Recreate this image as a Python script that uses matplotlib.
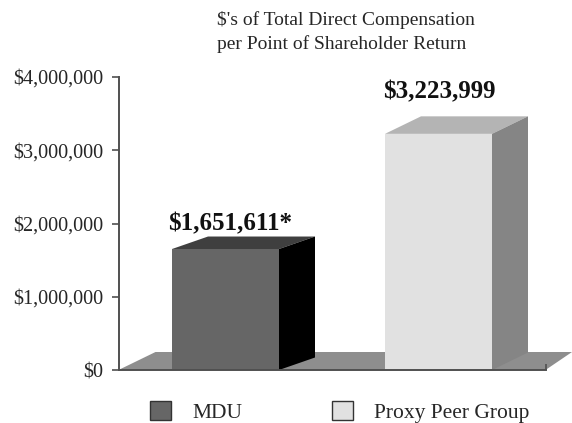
import matplotlib
matplotlib.use('Agg')
import matplotlib.pyplot as plt
from matplotlib.patches import Polygon, Patch

plt.rcParams['font.family'] = ['Liberation Serif', 'DejaVu Serif']

# Data
groups = ['MDU', 'Proxy Peer Group']
values = [1651611, 3223999]
value_labels = ['$1,651,611*', '$3,223,999']
y_ticks = [0, 1000000, 2000000, 3000000, 4000000]
y_tick_labels = ['$0', '$1,000,000', '$2,000,000', '$3,000,000', '$4,000,000']

# Colours: front, top, side
colors = [('#666666', '#3f3f3f', '#000000'), ('#e1e1e1', '#b4b4b4', '#858585')]
floor_color = '#8e8e8e'
axis_color = '#505050'
text_color = '#262626'

W, H = 572, 423
fig = plt.figure(figsize=(W / 100, H / 100), dpi=100)

# Axes box in pixels, x data is simply pixels from the figure's left edge
left, right, top, bottom = 118.5, 545.5, 77, 370
ax = fig.add_axes([left / W, 1 - bottom / H, (right - left) / W, (bottom - top) / H])
ax.set_xlim(left, right)
ax.set_ylim(0, 4000000)
ax.patch.set_alpha(0)
px_y = 4000000 / (bottom - top)  # one pixel in y units

# Bar layout: left edge, width, depth in pixels
bar_x = [172, 385]
bar_w = [107, 107]
bar_dx = [36, 36]
bar_dy = [12.5, 17.5]


def add_poly(points, color, z):
    ax.add_patch(Polygon(points, closed=True, facecolor=color, edgecolor='none',
                         clip_on=False, zorder=z))


# Floor
floor_dy = 18 * px_y
add_poly([(left, 0), (left + 37, floor_dy), (572, floor_dy), (right, 0)], floor_color, 1)

for i, v in enumerate(values):
    x0 = bar_x[i]
    x1 = x0 + bar_w[i]
    dx = bar_dx[i]
    dy = bar_dy[i] * px_y
    front, top_c, side = colors[i]
    add_poly([(x0, 0), (x1, 0), (x1, v), (x0, v)], front, 3)
    add_poly([(x0, v), (x1, v), (x1 + dx, v + dy), (x0 + dx, v + dy)], top_c, 3)
    add_poly([(x1, 0), (x1 + dx, dy), (x1 + dx, v + dy), (x1, v)], side, 3)

# Value labels
ax.text(230.5, values[0] + 345000, value_labels[0], ha='center', va='center',
        fontsize=18, fontweight='bold', color='#111111')
ax.text(439, values[1] + 567000, value_labels[1], ha='center', va='center',
        fontsize=18, fontweight='bold', color='#111111')

# Axes styling
for s in ['top', 'right']:
    ax.spines[s].set_visible(False)
for s in ['left', 'bottom']:
    ax.spines[s].set_color(axis_color)
    ax.spines[s].set_linewidth(1.4)
    ax.spines[s].set_zorder(4)
ax.set_yticks(y_ticks)
ax.set_yticklabels(y_tick_labels, fontsize=14.6, color=text_color)
ax.tick_params(axis='y', length=5, width=1.2, color=axis_color, pad=6)
ax.set_xticks([right])
ax.set_xticklabels([''])
ax.tick_params(axis='x', length=4, width=1.2, color=axis_color, direction='in')

# Title
fig.text(217 / W, 1 - 32 / H, "$'s of Total Direct Compensation\nper Point of Shareholder Return",
         ha='left', va='center', fontsize=14, color=text_color, linespacing=1.4)

# Legend
handles = [Patch(facecolor=colors[i][0], edgecolor='#333333', linewidth=1, label=groups[i])
           for i in range(len(groups))]
fig.legend(handles=handles, loc='lower left', bbox_to_anchor=(150 / W, 1 - 422.5 / H), ncol=2,
           frameon=False, fontsize=15.5, borderpad=0, borderaxespad=0, handlelength=0.98,
           handleheight=0.98, handletextpad=0.98, columnspacing=4.15, labelcolor=text_color)

fig.savefig('out.png', dpi=100)
